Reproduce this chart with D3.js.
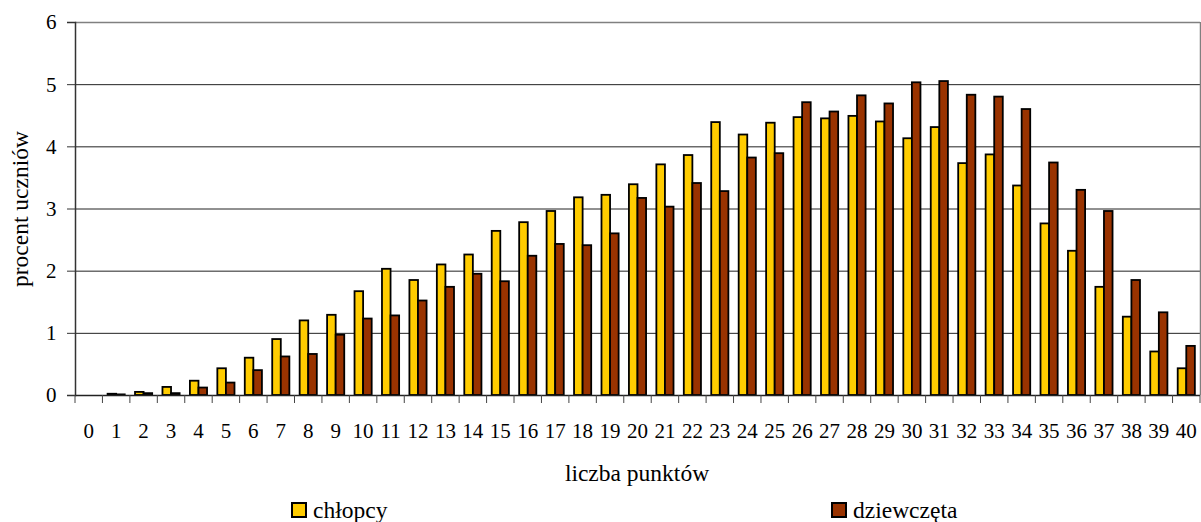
<!DOCTYPE html>
<html>
<head>
<meta charset="utf-8">
<script src="https://cdn.jsdelivr.net/npm/d3@7/dist/d3.min.js"></script>
<style>
  html, body { margin: 0; padding: 0; background: #fff; }
  svg { display: block; }
  svg text { font-family: "Liberation Serif", "Times New Roman", Times, Tinos, "Noto Serif", "DejaVu Serif", serif; fill: #000; }
</style>
</head>
<body>
<svg id="chart" width="1201" height="522"></svg>
<script>
const categories = d3.range(0, 41).map(String);
const seriesNames = ["chłopcy", "dziewczęta"];
const chlopcy = [0, 0.02, 0.05, 0.13, 0.23, 0.43, 0.6, 0.9, 1.2, 1.29, 1.67, 2.03, 1.85, 2.1, 2.26, 2.64, 2.78, 2.96, 3.18, 3.22, 3.39, 3.71, 3.86, 4.39, 4.19, 4.38, 4.47, 4.45, 4.49, 4.4, 4.13, 4.31, 3.73, 3.87, 3.37, 2.76, 2.32, 1.74, 1.26, 0.7, 0.43];
const dziewczeta = [0, 0.01, 0.03, 0.03, 0.12, 0.2, 0.4, 0.62, 0.66, 0.97, 1.23, 1.28, 1.52, 1.74, 1.95, 1.83, 2.24, 2.43, 2.41, 2.6, 3.17, 3.03, 3.41, 3.28, 3.82, 3.89, 4.71, 4.56, 4.82, 4.69, 5.03, 5.05, 4.83, 4.8, 4.6, 3.74, 3.3, 2.96, 1.85, 1.33, 0.79];
const yTicks = [0, 1, 2, 3, 4, 5, 6];
const colors = ["#FFCC00", "#993300"];

(function () {
const svg = d3.select("#chart");
const pLeft = 75, pRight = 1200, pTop = 22, pBottom = 395;

const x0 = d3.scaleBand().domain(categories).range([pLeft, pRight]).paddingInner(0).paddingOuter(0);
const x1 = d3.scaleBand().domain(seriesNames).range([0, x0.bandwidth()]).paddingInner(0).paddingOuter(0.6);
const y = d3.scaleLinear().domain([0, 6]).range([pBottom, pTop]);

// gridlines
svg.append("g").selectAll("line").data(yTicks.filter(d => d > 0)).join("line")
  .attr("x1", pLeft).attr("x2", pRight)
  .attr("y1", d => y(d) + 0.5).attr("y2", d => y(d) + 0.5)
  .attr("stroke", d => d === 6 ? "#808080" : "#222").attr("stroke-width", d => d === 6 ? 1.5 : 1);

// right border
svg.append("line").attr("x1", pRight + 0.5).attr("x2", pRight + 0.5).attr("y1", pTop).attr("y2", pBottom)
  .attr("stroke", "#808080").attr("stroke-width", 1.5);

// bars
const data = categories.map((c, i) => ({ c, vals: [chlopcy[i], dziewczeta[i]] }));
const groups = svg.append("g").selectAll("g").data(data).join("g")
  .attr("transform", d => `translate(${x0(d.c)},0)`);
groups.selectAll("rect").data(d => d.vals.map((v, k) => ({ k, v }))).join("rect")
  .attr("x", d => x1(seriesNames[d.k]))
  .attr("width", x1.bandwidth())
  .attr("y", d => y(d.v))
  .attr("height", d => y(0) - y(d.v))
  .attr("fill", d => colors[d.k])
  .attr("stroke", "#000")
  .attr("stroke-width", 1.8);

// y axis (ticks only; labels drawn explicitly)
const yAxis = d3.axisLeft(y).tickValues(yTicks).tickSize(8).tickFormat("");
const yg = svg.append("g").attr("transform", `translate(${pLeft},0)`).call(yAxis);
yg.select(".domain").attr("stroke", "#333").attr("stroke-width", 1.5);
yg.selectAll(".tick line").attr("stroke", "#333");
svg.append("g").selectAll("text").data(yTicks).join("text")
  .attr("x", 46).attr("y", d => y(d)).attr("dy", "0.35em")
  .attr("text-anchor", "start").attr("font-size", 21)
  .text(d => d);

// x axis baseline
svg.append("line").attr("x1", pLeft).attr("x2", pRight).attr("y1", pBottom + 0.5).attr("y2", pBottom + 0.5)
  .attr("stroke", "#222").attr("stroke-width", 1.5);
// x ticks at category boundaries
const boundaries = categories.map(c => x0(c)).concat([pRight]);
svg.append("g").selectAll("line").data(boundaries).join("line")
  .attr("x1", d => d).attr("x2", d => d)
  .attr("y1", pBottom).attr("y2", pBottom + 8)
  .attr("stroke", "#444").attr("stroke-width", 1);
// x labels
svg.append("g").selectAll("text").data(categories).join("text")
  .attr("x", d => x0(d) + x0.bandwidth() / 2)
  .attr("y", 438)
  .attr("text-anchor", "middle")
  .attr("font-size", 21)
  .text(d => d);

// axis titles
svg.append("text").attr("x", 637).attr("y", 481).attr("text-anchor", "middle")
  .attr("font-size", 23.5).text("liczba punktów");
svg.append("text").attr("transform", "translate(28,209) rotate(-90)").attr("text-anchor", "middle")
  .attr("font-size", 23.5).text("procent uczniów");

// legend
const legendPos = [{ x: 292, tx: 313 }, { x: 832, tx: 853 }];
seriesNames.forEach((name, k) => {
  svg.append("rect").attr("x", legendPos[k].x).attr("y", 503).attr("width", 14).attr("height", 14)
    .attr("fill", colors[k]).attr("stroke", "#000").attr("stroke-width", 2);
  svg.append("text").attr("x", legendPos[k].tx).attr("y", 518).attr("font-size", 23.5).text(name);
});
})();
</script>
</body>
</html>
